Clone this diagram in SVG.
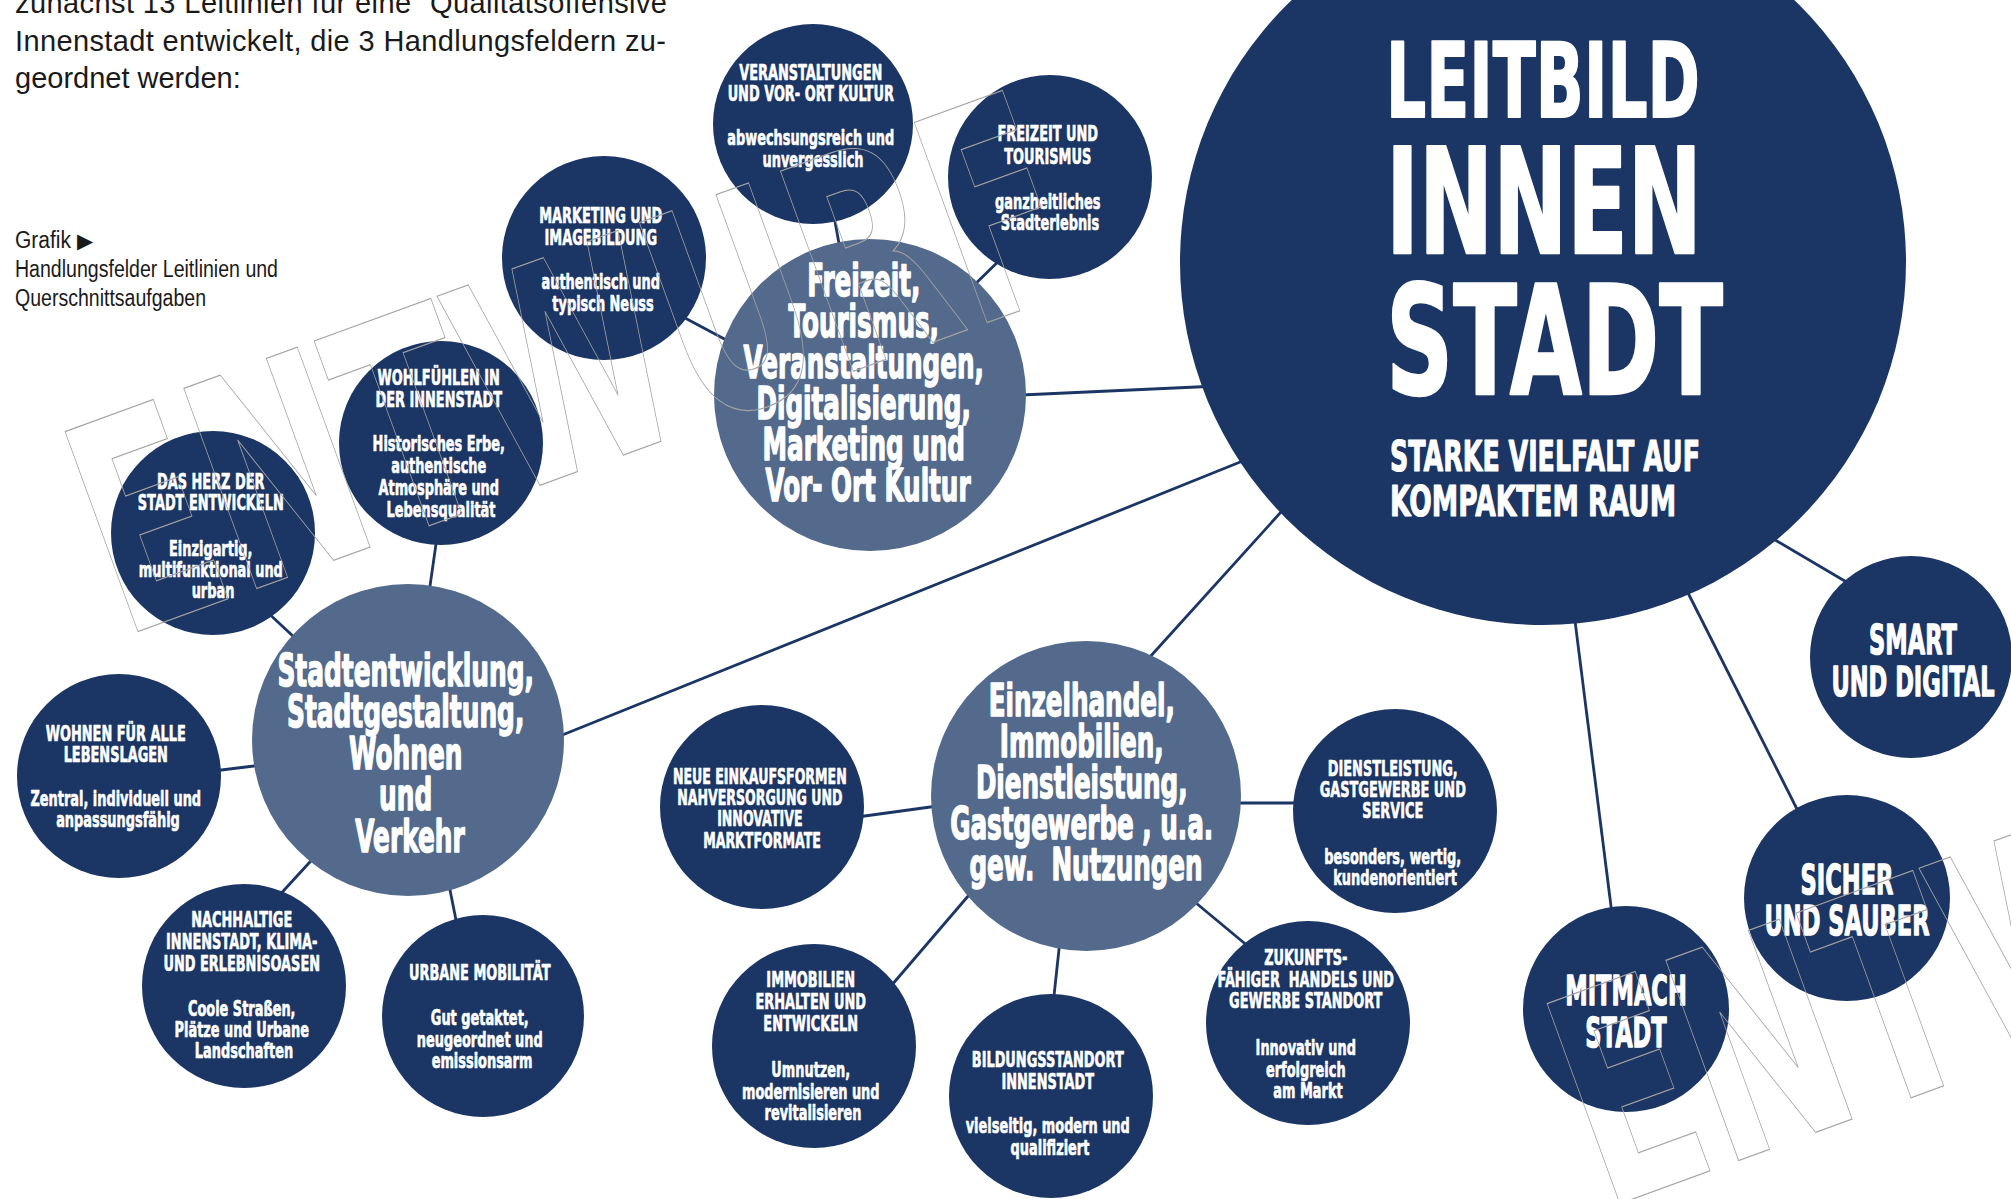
<svg xmlns="http://www.w3.org/2000/svg" width="2011" height="1199" viewBox="0 0 2011 1199">
  <style>
    .dk { fill: #1b3564; }
    .lt { fill: #546a8c; }
    .lbl { fill: #ffffff; stroke: #ffffff; stroke-linejoin: round; font-family: "DejaVu Sans", "Liberation Sans", sans-serif; font-weight: bold; text-anchor: middle; }
    .s { font-size: 21px; stroke-width: 0.7; }
    .t { font-size: 44px; stroke-width: 1.6; }
    .m { font-size: 41px; stroke-width: 1.4; }
    .big { fill: #ffffff; stroke: #ffffff; stroke-linejoin: round; font-family: "DejaVu Sans", "Liberation Sans", sans-serif; font-weight: bold; }
    .para { fill: #1a1a1a; font-family: "Liberation Sans", Arial, sans-serif; font-size: 29px; }
    .cap { fill: #1a1a1a; font-family: "Liberation Sans", Arial, sans-serif; font-size: 23px; }
    .edge { stroke: #1b3564; stroke-width: 2.8; fill: none; }
    .wm { fill: none; stroke: #a4a4a4; stroke-width: 1.2; font-family: "DejaVu Sans", sans-serif; font-weight: bold; font-size: 292px; }
  </style>

  <rect width="2011" height="1199" fill="#ffffff"/>

  <!-- body text above the chart -->
  <g id="intro-text">
    <text class="para" x="15" y="13" textLength="652" lengthAdjust="spacing">zunächst 13 Leitlinien für eine “Qualitätsoffensive</text>
    <text class="para" x="15" y="51" textLength="651" lengthAdjust="spacing">Innenstadt entwickelt, die 3 Handlungsfeldern zu-</text>
    <text class="para" x="15" y="88">geordnet werden:</text>
  </g>

  <g id="caption">
    <text class="cap" x="15" y="248"><tspan textLength="56" lengthAdjust="spacingAndGlyphs">Grafik</tspan><tspan x="77" font-size="21" font-family="DejaVu Sans, sans-serif">▶</tspan></text>
    <text class="cap" x="15" y="277" textLength="263" lengthAdjust="spacingAndGlyphs">Handlungsfelder Leitlinien und</text>
    <text class="cap" x="15" y="306" textLength="191" lengthAdjust="spacingAndGlyphs">Querschnittsaufgaben</text>
  </g>

  <!-- connectors (drawn under the circles) -->
  <g id="connectors">
    <line class="edge" x1="1000" y1="396" x2="1240" y2="385"/>
    <line class="edge" x1="540" y1="744" x2="1270" y2="450"/>
    <line class="edge" x1="1130" y1="679" x2="1300" y2="491"/>
    <line class="edge" x1="1760" y1="531" x2="1860" y2="590"/>
    <line class="edge" x1="1680" y1="577" x2="1805" y2="825"/>
    <line class="edge" x1="1573" y1="605" x2="1614" y2="930"/>
    <line class="edge" x1="832" y1="205" x2="842" y2="260"/>
    <line class="edge" x1="965" y1="294" x2="1010" y2="250"/>
    <line class="edge" x1="670" y1="310" x2="745" y2="350"/>
    <line class="edge" x1="438" y1="530" x2="428" y2="600"/>
    <line class="edge" x1="265" y1="610" x2="310" y2="652"/>
    <line class="edge" x1="205" y1="772" x2="270" y2="764"/>
    <line class="edge" x1="275" y1="900" x2="320" y2="851"/>
    <line class="edge" x1="449" y1="885" x2="458" y2="930"/>
    <line class="edge" x1="850" y1="818" x2="945" y2="805"/>
    <line class="edge" x1="1230" y1="803" x2="1305" y2="803"/>
    <line class="edge" x1="1190" y1="898" x2="1255" y2="952"/>
    <line class="edge" x1="1060" y1="940" x2="1053" y2="1005"/>
    <line class="edge" x1="975" y1="888" x2="885" y2="993"/>
  </g>

  <!-- central vision -->
  <g id="leitbild">
    <circle class="dk" cx="1543" cy="262" r="363"/>
    <text class="big" x="1386" y="117" font-size="103" stroke-width="2" textLength="314" lengthAdjust="spacingAndGlyphs">LEITBILD</text>
    <text class="big" x="1386" y="253" font-size="147" stroke-width="2.5" textLength="316" lengthAdjust="spacingAndGlyphs">INNEN</text>
    <text class="big" x="1386" y="394" font-size="151" stroke-width="2.5" textLength="337" lengthAdjust="spacingAndGlyphs">STADT</text>
    <text class="big" x="1390" y="471" font-size="43" stroke-width="1.2" textLength="310" lengthAdjust="spacingAndGlyphs">STARKE VIELFALT AUF</text>
    <text class="big" x="1390" y="516" font-size="43" stroke-width="1.2" textLength="286" lengthAdjust="spacingAndGlyphs">KOMPAKTEM RAUM</text>
  </g>

  <!-- cross-cutting tasks -->
  <g id="smart">
    <circle class="dk" cx="1911" cy="657" r="101"/>
    <g transform="translate(1913,0) scale(0.55,1)">
      <text class="lbl m"><tspan x="0" y="654">SMART</tspan><tspan x="0" y="696">UND DIGITAL</tspan></text>
    </g>
  </g>
  <g id="sicher">
    <circle class="dk" cx="1847" cy="898" r="103"/>
    <g transform="translate(1847,0) scale(0.55,1)">
      <text class="lbl m"><tspan x="0" y="894">SICHER</tspan><tspan x="0" y="935">UND SAUBER</tspan></text>
    </g>
  </g>
  <g id="mitmach">
    <circle class="dk" cx="1626" cy="1009" r="103"/>
    <g transform="translate(1626,0) scale(0.55,1)">
      <text class="lbl m"><tspan x="0" y="1005">MITMACH</tspan><tspan x="0" y="1047">STADT</tspan></text>
    </g>
  </g>

  <!-- field 1: leisure, tourism, events -->
  <g id="freizeit">
    <circle class="lt" cx="870" cy="395" r="156"/>
    <g transform="translate(868,0) scale(0.56,1)">
      <text class="lbl t">
        <tspan x="0" y="296">Freizeit,</tspan>
        <tspan x="0" y="337">Tourismus,</tspan>
        <tspan x="0" y="378">Veranstaltungen,</tspan>
        <tspan x="0" y="419">Digitalisierung,</tspan>
        <tspan x="0" y="460">Marketing und</tspan>
        <tspan x="0" y="501">Vor- Ort Kultur</tspan>
      </text>
    </g>
  </g>
  <g id="veranstaltungen">
    <circle class="dk" cx="813" cy="124" r="100"/>
    <g transform="translate(813,0) scale(0.615,1)">
      <text class="lbl s">
        <tspan x="0" y="80">VERANSTALTUNGEN</tspan>
        <tspan x="0" y="101">UND VOR- ORT KULTUR</tspan>
        <tspan x="0" y="145">abwechsungsreich und</tspan>
        <tspan x="0" y="167">unvergesslich</tspan>
      </text>
    </g>
  </g>
  <g id="freizeit-tourismus">
    <circle class="dk" cx="1050" cy="177" r="102"/>
    <g transform="translate(1050,0) scale(0.615,1)">
      <text class="lbl s">
        <tspan x="0" y="141">FREIZEIT UND</tspan>
        <tspan x="0" y="164">TOURISMUS</tspan>
        <tspan x="0" y="209">ganzheitliches</tspan>
        <tspan x="0" y="230">Stadterlebnis</tspan>
      </text>
    </g>
  </g>
  <g id="marketing">
    <circle class="dk" cx="604" cy="258" r="102"/>
    <g transform="translate(603,0) scale(0.615,1)">
      <text class="lbl s">
        <tspan x="0" y="223">MARKETING UND</tspan>
        <tspan x="0" y="245">IMAGEBILDUNG</tspan>
        <tspan x="0" y="289">authentisch und</tspan>
        <tspan x="0" y="311">typisch Neuss</tspan>
      </text>
    </g>
  </g>

  <!-- field 2: urban development, housing, traffic -->
  <g id="stadtentwicklung">
    <circle class="lt" cx="408" cy="740" r="156"/>
    <g transform="translate(410,0) scale(0.565,1)">
      <text class="lbl t">
        <tspan x="0" y="686">Stadtentwicklung,</tspan>
        <tspan x="0" y="727">Stadtgestaltung,</tspan>
        <tspan x="0" y="769">Wohnen</tspan>
        <tspan x="0" y="810">und</tspan>
        <tspan x="0" y="852">Verkehr</tspan>
      </text>
    </g>
  </g>
  <g id="wohlfuehlen">
    <circle class="dk" cx="441" cy="443" r="102"/>
    <g transform="translate(441,0) scale(0.615,1)">
      <text class="lbl s">
        <tspan x="0" y="385">WOHLFÜHLEN IN</tspan>
        <tspan x="0" y="407">DER INNENSTADT</tspan>
        <tspan x="0" y="451">Historisches Erbe,</tspan>
        <tspan x="0" y="473">authentische</tspan>
        <tspan x="0" y="495">Atmosphäre und</tspan>
        <tspan x="0" y="517">Lebensqualität</tspan>
      </text>
    </g>
  </g>
  <g id="herz">
    <circle class="dk" cx="213" cy="533" r="102"/>
    <g transform="translate(213,0) scale(0.615,1)">
      <text class="lbl s">
        <tspan x="0" y="489">DAS HERZ DER</tspan>
        <tspan x="0" y="510">STADT ENTWICKELN</tspan>
        <tspan x="0" y="556">Einzigartig,</tspan>
        <tspan x="0" y="577">multifunktional und</tspan>
        <tspan x="0" y="598">urban</tspan>
      </text>
    </g>
  </g>
  <g id="wohnen">
    <circle class="dk" cx="119" cy="776" r="102"/>
    <g transform="translate(118,0) scale(0.615,1)">
      <text class="lbl s">
        <tspan x="0" y="741">WOHNEN FÜR ALLE</tspan>
        <tspan x="0" y="762">LEBENSLAGEN</tspan>
        <tspan x="0" y="806">Zentral, individuell und</tspan>
        <tspan x="0" y="827">anpassungsfähig</tspan>
      </text>
    </g>
  </g>
  <g id="nachhaltig">
    <circle class="dk" cx="244" cy="986" r="102"/>
    <g transform="translate(244,0) scale(0.615,1)">
      <text class="lbl s">
        <tspan x="0" y="927">NACHHALTIGE</tspan>
        <tspan x="0" y="949">INNENSTADT, KLIMA-</tspan>
        <tspan x="0" y="971">UND ERLEBNISOASEN</tspan>
        <tspan x="0" y="1016">Coole Straßen,</tspan>
        <tspan x="0" y="1037">Plätze und Urbane</tspan>
        <tspan x="0" y="1058">Landschaften</tspan>
      </text>
    </g>
  </g>
  <g id="mobilitaet">
    <circle class="dk" cx="483" cy="1016" r="101"/>
    <g transform="translate(482,0) scale(0.615,1)">
      <text class="lbl s">
        <tspan x="0" y="980">URBANE MOBILITÄT</tspan>
        <tspan x="0" y="1025">Gut getaktet,</tspan>
        <tspan x="0" y="1047">neugeordnet und</tspan>
        <tspan x="0" y="1068">emissionsarm</tspan>
      </text>
    </g>
  </g>

  <!-- field 3: retail, real estate, services -->
  <g id="einzelhandel">
    <circle class="lt" cx="1086" cy="796" r="155"/>
    <g transform="translate(1086,0) scale(0.56,1)">
      <text class="lbl t">
        <tspan x="0" y="716">Einzelhandel,</tspan>
        <tspan x="0" y="757">Immobilien,</tspan>
        <tspan x="0" y="798">Dienstleistung,</tspan>
        <tspan x="0" y="839">Gastgewerbe , u.a.</tspan>
        <tspan x="0" y="880">gew.&#160; Nutzungen</tspan>
      </text>
    </g>
  </g>
  <g id="einkaufsformen">
    <circle class="dk" cx="762" cy="807" r="102"/>
    <g transform="translate(762,0) scale(0.6,1)">
      <text class="lbl s">
        <tspan x="0" y="784">NEUE EINKAUFSFORMEN</tspan>
        <tspan x="0" y="805">NAHVERSORGUNG UND</tspan>
        <tspan x="0" y="826">INNOVATIVE</tspan>
        <tspan x="0" y="848">MARKTFORMATE</tspan>
      </text>
    </g>
  </g>
  <g id="dienstleistung">
    <circle class="dk" cx="1395" cy="811" r="102"/>
    <g transform="translate(1395,0) scale(0.615,1)">
      <text class="lbl s">
        <tspan x="0" y="776">DIENSTLEISTUNG,</tspan>
        <tspan x="0" y="797">GASTGEWERBE UND</tspan>
        <tspan x="0" y="818">SERVICE</tspan>
        <tspan x="0" y="864">besonders, wertig,</tspan>
        <tspan x="0" y="885">kundenorientiert</tspan>
      </text>
    </g>
  </g>
  <g id="zukunft">
    <circle class="dk" cx="1308" cy="1023" r="102"/>
    <g transform="translate(1308,0) scale(0.615,1)">
      <text class="lbl s">
        <tspan x="0" y="965">ZUKUNFTS-</tspan>
        <tspan x="0" y="987">FÄHIGER&#160; HANDELS UND</tspan>
        <tspan x="0" y="1008">GEWERBE STANDORT</tspan>
        <tspan x="0" y="1055">Innovativ und</tspan>
        <tspan x="0" y="1077">erfolgreich</tspan>
        <tspan x="0" y="1098">am Markt</tspan>
      </text>
    </g>
  </g>
  <g id="bildung">
    <circle class="dk" cx="1051" cy="1096" r="102"/>
    <g transform="translate(1050,0) scale(0.615,1)">
      <text class="lbl s">
        <tspan x="0" y="1067">BILDUNGSSTANDORT</tspan>
        <tspan x="0" y="1089">INNENSTADT</tspan>
        <tspan x="0" y="1133">vielseitig, modern und</tspan>
        <tspan x="0" y="1155">qualifiziert</tspan>
      </text>
    </g>
  </g>
  <g id="immobilien">
    <circle class="dk" cx="814" cy="1046" r="102"/>
    <g transform="translate(813,0) scale(0.615,1)">
      <text class="lbl s">
        <tspan x="0" y="987">IMMOBILIEN</tspan>
        <tspan x="0" y="1009">ERHALTEN UND</tspan>
        <tspan x="0" y="1031">ENTWICKELN</tspan>
        <tspan x="0" y="1077">Umnutzen,</tspan>
        <tspan x="0" y="1099">modernisieren und</tspan>
        <tspan x="0" y="1120">revitalisieren</tspan>
      </text>
    </g>
  </g>

  <!-- draft stamp, outlined lettering -->
  <g id="watermark">
    <text class="wm" transform="translate(137,632) rotate(-20)" x="-16" y="0" textLength="1030" lengthAdjust="spacingAndGlyphs">ENTWURF</text>
    <text class="wm" transform="translate(1619,1204) rotate(-20)" x="-16" y="0" textLength="1030" lengthAdjust="spacingAndGlyphs">ENTWURF</text>
  </g>
</svg>
